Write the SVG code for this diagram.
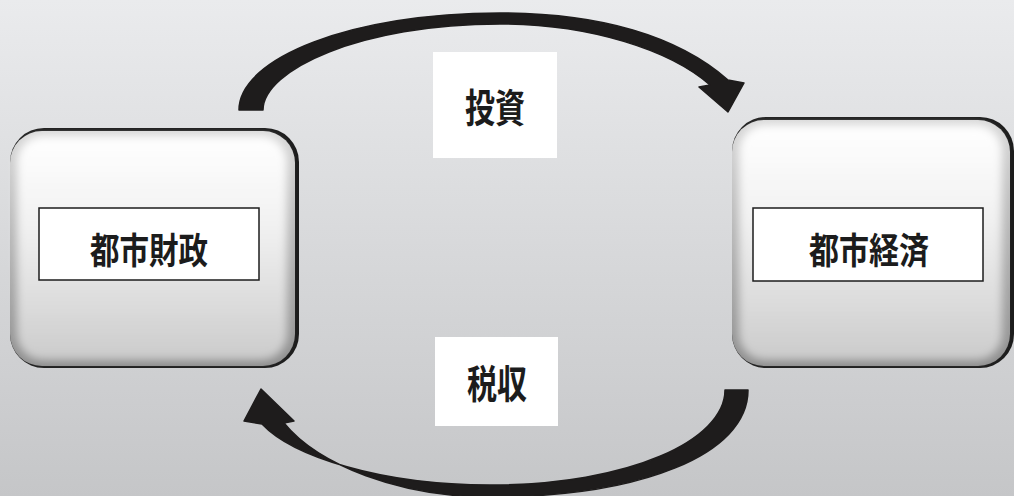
<svg xmlns="http://www.w3.org/2000/svg" width="1014" height="496" viewBox="0 0 1014 496">
<defs>
<linearGradient id="bg" x1="0" y1="0" x2="0" y2="1">
<stop offset="0" stop-color="#eaebed"/>
<stop offset="1" stop-color="#c5c6c8"/>
</linearGradient>
<linearGradient id="edge" x1="0" y1="0" x2="0" y2="1">
<stop offset="0" stop-color="#d8d8d8"/>
<stop offset="1" stop-color="#8e8e8e"/>
</linearGradient>
<linearGradient id="body" x1="0" y1="0" x2="0" y2="1">
<stop offset="0" stop-color="#ffffff"/>
<stop offset="0.4" stop-color="#f1f1f1"/>
<stop offset="0.75" stop-color="#dcdcdc"/>
<stop offset="1" stop-color="#cbcbcb"/>
</linearGradient>
<filter id="soft" x="-10%" y="-10%" width="120%" height="120%">
<feGaussianBlur stdDeviation="4"/>
</filter>
</defs>
<style>
.outline{fill:#1c1c1c}
.edge{fill:url(#edge)}
.body{fill:url(#body);filter:url(#soft)}
.inner{fill:#ffffff;stroke:#1c1c1c;stroke-width:1.5}
.lbl{fill:#ffffff}
.txt{font-family:"Noto Sans CJK JP","Noto Sans CJK SC",sans-serif;font-weight:700;fill:#1c1c1c;text-anchor:middle;dominant-baseline:central}
.arrow{fill:#1e1c1c;stroke:#1e1c1c;stroke-width:1.5;stroke-linejoin:round}
</style>
<rect x="0" y="0" width="1014" height="496" fill="url(#bg)"/>
<g id="connectors">
<path class="arrow" d="M239,110 C239,58 352,13 500,13 C600,13 678,36 728,80 L744,83 L728,112 L699,87 L710,85 C670,50 590,24 500,24 C360,24 263,70 263,110 Z"/>
<path class="arrow" d="M725,390 L748,390 C748,455 640,497 490,497 C400,497 318,465 284,423 L294,421 L261,389 L244,421 L262,424 C292,456 380,485 490,485 C630,485 725,440 725,390 Z"/>
</g>
<g id="node-zaisei">
<rect class="outline" x="10" y="128" width="289" height="240" rx="34"/>
<rect class="edge" x="10" y="131" width="285" height="235" rx="32"/>
<rect class="body" x="17" y="136" width="270" height="224" rx="26"/>
<rect class="inner" x="39" y="208" width="220" height="72"/>
<text class="txt" x="149" y="248" font-size="36" textLength="118" lengthAdjust="spacingAndGlyphs">都市財政</text>
</g>
<g id="node-keizai">
<rect class="outline" x="732" y="117" width="282" height="251" rx="34"/>
<rect class="edge" x="732" y="120" width="278" height="246" rx="32"/>
<rect class="body" x="739" y="125" width="263" height="235" rx="26"/>
<rect class="inner" x="753" y="208" width="230" height="73"/>
<text class="txt" x="869" y="248" font-size="36" textLength="120" lengthAdjust="spacingAndGlyphs">都市経済</text>
</g>
<g id="label-toshi">
<rect class="lbl" x="433" y="52" width="124" height="106"/>
<text class="txt" x="495" y="105" font-size="39" textLength="60" lengthAdjust="spacingAndGlyphs">投資</text>
</g>
<g id="label-zeishu">
<rect class="lbl" x="435" y="337" width="123" height="89"/>
<text class="txt" x="497" y="381" font-size="39" textLength="60" lengthAdjust="spacingAndGlyphs">税収</text>
</g>
</svg>
